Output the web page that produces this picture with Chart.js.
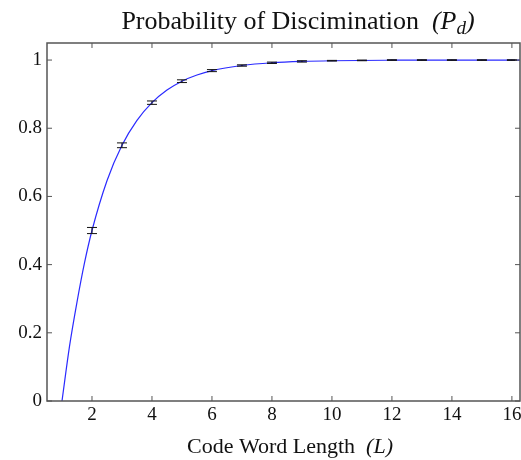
<!DOCTYPE html>
<html>
<head>
<meta charset="utf-8">
<script src="https://cdn.jsdelivr.net/npm/chart.js@4.4.1/dist/chart.umd.min.js"></script>
<style>
  html, body { margin: 0; padding: 0; background: #fff; }
  #wrap { width: 521px; height: 460px; }
</style>
</head>
<body>
<div id="wrap"><canvas id="chart" width="521" height="460"></canvas></div>
<script>
// curve
const curveL = [1, 1.25, 1.5, 1.75, 2, 2.5, 3, 3.5, 4, 4.5, 5, 5.5, 6, 7, 8, 9, 10, 12, 14, 16.3];
const curveP = [0, 0.16, 0.29, 0.405, 0.5, 0.646, 0.75, 0.823, 0.875, 0.912, 0.938, 0.956, 0.969, 0.984, 0.992, 0.996, 0.998, 0.9995, 1, 1];

// measured points with error bars
const pointL = [2, 3, 4, 5, 6, 7, 8, 9, 10, 11, 12, 13, 14, 15, 16];
const pointP = [0.5, 0.75, 0.875, 0.938, 0.969, 0.984, 0.992, 0.996, 0.998, 0.999, 1, 1, 1, 1, 1];
const pointErr = [0.009, 0.007, 0.005, 0.004, 0.003, 0.002, 0.002, 0.002, 0.001, 0.001, 0.001, 0.001, 0.001, 0.001, 0.001];

const xTicks = [2, 4, 6, 8, 10, 12, 14, 16];
const yTicks = [0, 0.2, 0.4, 0.6, 0.8, 1];

const SERIF = '"Liberation Serif", "DejaVu Serif", serif';
const AXIS = '#555';

const errorBars = {
  id: 'errorBars',
  afterDatasetsDraw(chart) {
    const { ctx, scales: { x, y } } = chart;
    ctx.save();
    ctx.strokeStyle = '#111';
    ctx.lineWidth = 1;
    pointL.forEach((l, i) => {
      const px = x.getPixelForValue(l);
      const top = y.getPixelForValue(pointP[i] + pointErr[i]);
      const bot = y.getPixelForValue(pointP[i] - pointErr[i]);
      ctx.beginPath();
      ctx.moveTo(px, top); ctx.lineTo(px, bot);
      ctx.moveTo(px - 5, top); ctx.lineTo(px + 5, top);
      ctx.moveTo(px - 5, bot); ctx.lineTo(px + 5, bot);
      ctx.stroke();
    });
    ctx.restore();
  }
};

// box frame, inward ticks and the mixed-style titles
const frame = {
  id: 'frame',
  afterDraw(chart) {
    const { ctx, chartArea: a, scales: { x, y } } = chart;
    ctx.save();
    ctx.strokeStyle = AXIS;
    ctx.lineWidth = 1.5;
    ctx.strokeRect(a.left, a.top, a.right - a.left, a.bottom - a.top);
    ctx.lineWidth = 1;
    ctx.beginPath();
    xTicks.forEach(v => {
      const px = x.getPixelForValue(v);
      ctx.moveTo(px, a.bottom); ctx.lineTo(px, a.bottom - 5);
      ctx.moveTo(px, a.top); ctx.lineTo(px, a.top + 5);
    });
    yTicks.forEach(v => {
      const py = y.getPixelForValue(v);
      ctx.moveTo(a.left, py); ctx.lineTo(a.left + 5, py);
      ctx.moveTo(a.right, py); ctx.lineTo(a.right - 5, py);
    });
    ctx.stroke();

    ctx.fillStyle = '#111';
    ctx.textBaseline = 'alphabetic';
    ctx.textAlign = 'left';

    // title
    const t1 = 'Probability of Discimination  ';
    ctx.font = '26px ' + SERIF;
    const w1 = ctx.measureText(t1).width;
    ctx.font = 'italic 26px ' + SERIF;
    const w2 = ctx.measureText('(P').width;
    ctx.font = 'italic 19px ' + SERIF;
    const w3 = ctx.measureText('d').width;
    ctx.font = 'italic 26px ' + SERIF;
    const w4 = ctx.measureText(')').width;
    let tx = 298 - (w1 + w2 + w3 + w4) / 2;
    const ty = 29;
    ctx.font = '26px ' + SERIF;
    ctx.fillText(t1, tx, ty); tx += w1;
    ctx.font = 'italic 26px ' + SERIF;
    ctx.fillText('(P', tx, ty); tx += w2;
    ctx.font = 'italic 19px ' + SERIF;
    ctx.fillText('d', tx, ty + 5); tx += w3;
    ctx.font = 'italic 26px ' + SERIF;
    ctx.fillText(')', tx, ty);

    // x axis title
    const a1 = 'Code Word Length  ';
    ctx.font = '22px ' + SERIF;
    const b1 = ctx.measureText(a1).width;
    ctx.font = 'italic 22px ' + SERIF;
    const b2 = ctx.measureText('(L)').width;
    let ax = 290 - (b1 + b2) / 2;
    const ay = 453;
    ctx.font = '22px ' + SERIF;
    ctx.fillText(a1, ax, ay); ax += b1;
    ctx.font = 'italic 22px ' + SERIF;
    ctx.fillText('(L)', ax, ay);
    ctx.restore();
  }
};

new Chart(document.getElementById('chart'), {
  type: 'line',
  data: {
    datasets: [{
      data: curveL.map((l, i) => ({ x: l, y: curveP[i] })),
      borderColor: '#2a2aff',
      borderWidth: 1.2,
      pointRadius: 0,
      cubicInterpolationMode: 'monotone',
      fill: false,
    }],
  },
  options: {
    responsive: false,
    animation: false,
    events: [],
    layout: { padding: { top: 43, right: 1, left: 0, bottom: 0 } },
    plugins: {
      legend: { display: false },
      title: { display: false },
      tooltip: { enabled: false },
    },
    scales: {
      x: {
        type: 'linear',
        min: 0.5,
        max: 16.27,
        afterBuildTicks: s => { s.ticks = xTicks.map(v => ({ value: v })); },
        afterFit: s => { s.height = 59; s.paddingLeft = 0; s.paddingRight = 0; },
        ticks: { color: '#111', font: { family: SERIF, size: 19 }, padding: 3, maxRotation: 0 },
        grid: { display: false, drawTicks: false },
        border: { display: false },
      },
      y: {
        min: 0,
        max: 1.05,
        afterBuildTicks: s => { s.ticks = yTicks.map(v => ({ value: v })); },
        afterFit: s => { s.width = 47; s.paddingTop = 0; s.paddingBottom = 0; },
        ticks: {
          color: '#111',
          font: { family: SERIF, size: 19 },
          padding: 5,
          callback: v => String(Math.round(v * 10) / 10),
        },
        grid: { display: false, drawTicks: false },
        border: { display: false },
      },
    },
  },
  plugins: [errorBars, frame],
});
</script>
</body>
</html>
